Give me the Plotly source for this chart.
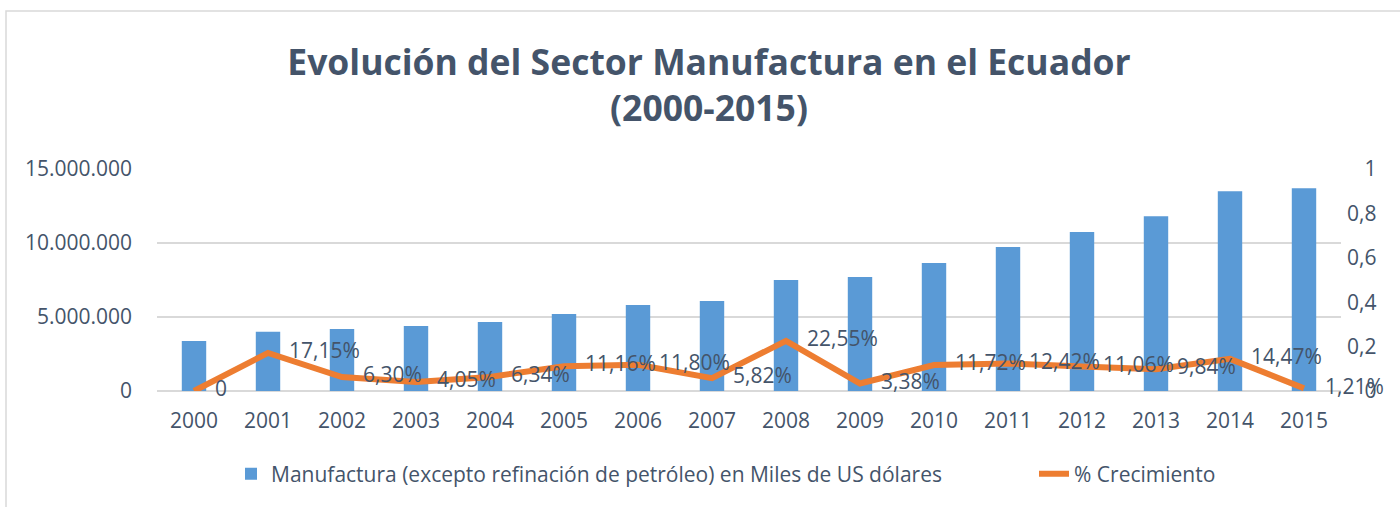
import plotly.graph_objects as go

years = ["2000", "2001", "2002", "2003", "2004", "2005", "2006", "2007",
         "2008", "2009", "2010", "2011", "2012", "2013", "2014", "2015"]
manufactura = [3380000, 4000000, 4190000, 4390000, 4660000, 5200000, 5810000, 6080000,
               7500000, 7700000, 8650000, 9730000, 10740000, 11800000, 13500000, 13700000]
crecimiento = [0.0, 0.1715, 0.0630, 0.0405, 0.0634, 0.1116, 0.1180, 0.0582,
               0.2255, 0.0338, 0.1172, 0.1242, 0.1106, 0.0984, 0.1447, 0.0121]
left_ticks = [0, 5000000, 10000000, 15000000]
right_ticks = [0, 0.2, 0.4, 0.6, 0.8, 1]
right_ticktext = ["\u2007\u20080", "0,2", "0,4", "0,6", "0,8", "\u2007\u20081"]

title_text = "Evolución del Sector Manufactura en el Ecuador<br>(2000-2015)"
bar_name = "Manufactura (excepto refinación de petróleo) en Miles de US dólares"
line_name = "% Crecimiento"

FONT = "Open Sans, Lato, sans-serif"
TXT = "#44546A"
FS = 21


def pct_label(v):
    pad = "\u2003"
    if v == 0:
        return pad + "0"
    return pad + f"{v*100:.2f}%".replace(".", ",")


labels = [pct_label(v) for v in crecimiento]

fig = go.Figure()
fig.add_trace(go.Bar(
    x=years, y=manufactura, name=bar_name,
    marker=dict(color="#5A9AD6", line=dict(width=0)),
    width=0.33, yaxis="y", legend="legend",
))
fig.add_trace(go.Scatter(
    x=years, y=crecimiento, name=line_name, yaxis="y2",
    mode="lines+text", text=labels, textposition="middle right",
    textfont=dict(family=FONT, size=FS, color=TXT),
    line=dict(color="#ED7D31", width=6),
    cliponaxis=False, legend="legend2",
))

L, R, T, B = 157, 59, 169, 116
W, H = 1400, 507
pw = W - L - R
ph = H - T - B

legend_common = dict(
    orientation="h", xref="container", yref="container",
    xanchor="left", y=1 - 474 / H, yanchor="middle",
    font=dict(family=FONT, size=FS, color=TXT),
    bgcolor="rgba(0,0,0,0)",
)

fig.update_layout(
    width=W, height=H,
    margin=dict(l=L, r=R, t=T, b=B, autoexpand=False),
    paper_bgcolor="white", plot_bgcolor="white",
    separators=",.",
    font=dict(family=FONT, size=FS, color=TXT),
    title=dict(
        text=title_text,
        font=dict(family=FONT, size=35.5, color=TXT, weight="bold"),
        x=709 / W, xanchor="center", xref="container",
        y=1 - 75 / H, yanchor="middle", yref="container",
    ),
    xaxis=dict(
        type="category", range=[-0.5, len(years) - 0.5], autorange=False,
        showgrid=False, showline=False, ticks="",
        tickfont=dict(family=FONT, size=FS, color=TXT),
        zeroline=False, ticklabelstandoff=15,
    ),
    yaxis=dict(
        range=[0, 15000000], tickvals=left_ticks, tickformat=",d",
        showgrid=True, gridcolor="#D9D9D9", gridwidth=1.5,
        zeroline=True, zerolinecolor="#D9D9D9", zerolinewidth=1.5,
        showline=False, ticks="", ticklabelstandoff=24,
        tickfont=dict(family=FONT, size=FS, color=TXT),
    ),
    yaxis2=dict(
        range=[0, 1], tickvals=right_ticks, ticktext=right_ticktext,
        overlaying="y", side="right",
        showgrid=False, zeroline=False, showline=False, ticks="",
        ticklabelstandoff=5,
        tickfont=dict(family=FONT, size=FS, color=TXT),
    ),
    showlegend=True,
    legend=dict(x=231 / W, **legend_common),
    legend2=dict(x=1034 / W, **legend_common),
    shapes=[dict(
        type="rect", xref="paper", yref="paper",
        x0=(6 - L) / pw, x1=(1420 - L) / pw,
        y0=(H - B - 530) / ph, y1=(H - B - 11) / ph,
        line=dict(color="#D9D9D9", width=1.5), fillcolor="rgba(0,0,0,0)",
        layer="below",
    )],
)

fig.write_html(
    "out.html",
    config={"displayModeBar": False},
    post_script="document.body.style.margin='0px';document.body.style.overflow='hidden';",
)
